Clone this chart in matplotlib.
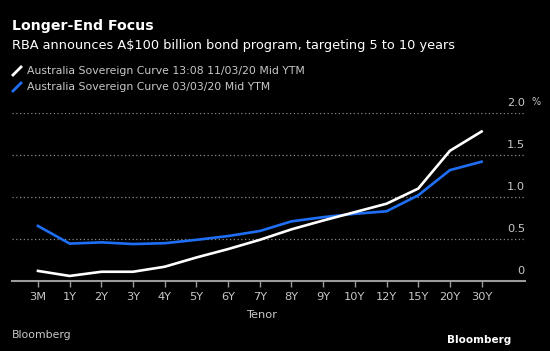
import matplotlib
matplotlib.use("Agg")
import matplotlib.pyplot as plt
from matplotlib.lines import Line2D

tenors = ["3M", "1Y", "2Y", "3Y", "4Y", "5Y", "6Y", "7Y", "8Y", "9Y", "10Y", "12Y", "15Y", "20Y", "30Y"]
curve_1103 = [0.12, 0.06, 0.11, 0.11, 0.17, 0.28, 0.38, 0.49, 0.615, 0.72, 0.82, 0.92, 1.10, 1.55, 1.78]
curve_0303 = [0.655, 0.445, 0.46, 0.44, 0.45, 0.49, 0.535, 0.595, 0.71, 0.76, 0.80, 0.83, 1.02, 1.32, 1.42]
yticks = [0, 0.5, 1.0, 1.5, 2.0]
ytick_labels = ["0", "0.5", "1.0", "1.5", "2.0"]
series_names = ["Australia Sovereign Curve 13:08 11/03/20 Mid YTM",
                "Australia Sovereign Curve 03/03/20 Mid YTM"]

W, H = 550, 351
BG = "black"
WHITE = "#ffffff"
BLUE = "#1f6ff5"
GREY = "#c8c8c8"

fig = plt.figure(figsize=(W / 100, H / 100), dpi=100, facecolor=BG)
left, right, top, bottom = 12, 525, 113, 281
ax = fig.add_axes([left / W, 1 - bottom / H, (right - left) / W, (bottom - top) / H], facecolor=BG)

x = list(range(len(tenors)))
ax.plot(x, curve_0303, color=BLUE, lw=1.9, solid_joinstyle="miter", zorder=3)
ax.plot(x, curve_1103, color=WHITE, lw=1.9, solid_joinstyle="miter", zorder=4)

ax.set_xlim(-0.82, 15.37)
ax.set_ylim(0, 2.0)

for v in yticks[1:]:
    ax.axhline(v, color="#8a8a8a", lw=0.9, ls=(0, (1, 2)), zorder=1)
for s in ["top", "right", "left"]:
    ax.spines[s].set_visible(False)
ax.spines["bottom"].set_color("#9a9a9a")
ax.spines["bottom"].set_linewidth(1.5)

ax.set_yticks([])
ax.set_xticks(x)
ax.set_xticklabels(tenors, color=GREY, fontsize=8.2)
ax.tick_params(axis="x", colors="#9a9a9a", length=4, width=1, pad=4, labelcolor=GREY)

for v, lab in zip(yticks, ytick_labels):
    ax.text(1.0, v, lab, transform=ax.get_yaxis_transform(), ha="right", va="bottom",
            color=GREY, fontsize=8.2, position=(1.0, v + 0.06))
ax.text(531 / W, 1 - 102 / H, "%", transform=fig.transFigure, ha="left", va="center",
        color=GREY, fontsize=7)

fig.text(262 / W, 1 - 315 / H, "Tenor", ha="center", va="center", color=GREY, fontsize=8.2)

fig.text(12 / W, 1 - 26 / H, "Longer-End Focus", ha="left", va="center", color=WHITE,
         fontsize=10.2, fontweight="bold")
fig.text(12 / W, 1 - 45 / H, "RBA announces A$100 billion bond program, targeting 5 to 10 years",
         ha="left", va="center", color=WHITE, fontsize=9.3)

for i, (name, col) in enumerate(zip(series_names, [WHITE, BLUE])):
    yc = 71 + i * 16
    fig.add_artist(Line2D([13 / W, 21 / W], [1 - (yc + 4) / H, 1 - (yc - 4) / H],
                          transform=fig.transFigure, color=col, lw=2))
    fig.text(27 / W, 1 - yc / H, name, ha="left", va="center", color=GREY, fontsize=7.8)

fig.text(12 / W, 1 - 335 / H, "Bloomberg", ha="left", va="center", color=GREY, fontsize=7.8)
fig.text(511 / W, 1 - 340 / H, "Bloomberg", ha="right", va="center", color=WHITE,
         fontsize=7.5, fontweight="bold")

fig.savefig("out.png", dpi=100, facecolor=BG)
